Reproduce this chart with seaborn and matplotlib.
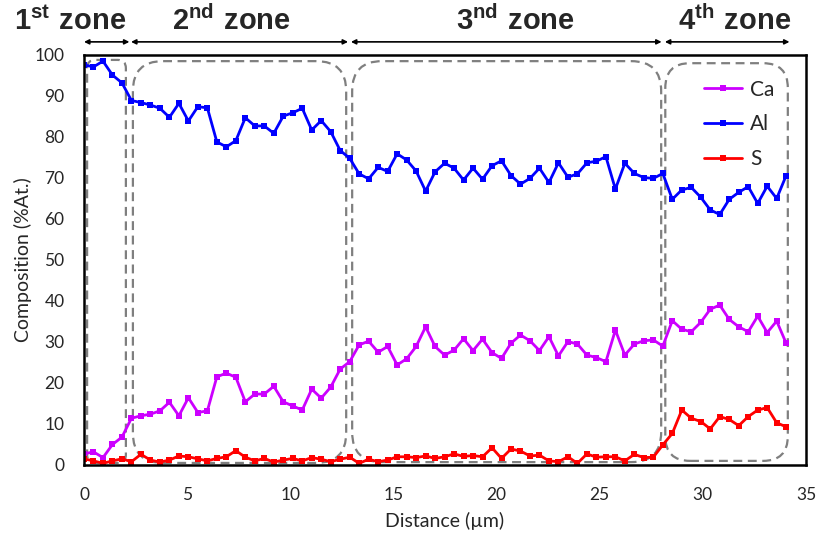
import numpy as np
import pandas as pd
import matplotlib
matplotlib.use('Agg')
import matplotlib.pyplot as plt
from matplotlib import font_manager
from matplotlib.patches import FancyBboxPatch
import seaborn as sns

# EDS line scan, one point every 0.46 um
step = 0.46
ca = [2.7, 3.2, 1.8, 5.0, 6.8, 11.4, 12.0, 12.4, 13.2, 15.3, 12.0, 16.4, 12.8, 13.2, 21.5,
      22.4, 21.4, 15.4, 17.3, 17.3, 19.2,
      15.4, 14.4, 13.4, 18.5, 16.3, 19.0, 23.4, 25.2, 29.3, 30.2, 27.5, 28.9, 24.4, 25.9,
      28.9, 33.7, 28.9, 26.8, 28.0, 30.8,
      27.9, 30.7, 27.4, 26.0, 29.7, 31.7, 30.3, 27.9, 31.3, 26.6, 30.1, 29.5, 26.8, 26.2,
      25.2, 32.9, 26.8, 29.5, 30.3, 30.5,
      29.0, 35.2, 33.1, 32.5, 34.8, 38.0, 39.0, 35.5, 33.7, 32.5, 36.3, 32.3, 35.1, 29.7]
al = [97.6, 97.1, 98.5, 95.1, 93.2, 88.9, 88.4, 87.8, 87.0, 84.8, 88.2, 83.9, 87.4, 87.1, 78.8,
      77.6, 79.1, 84.7, 82.7, 82.7, 80.9,
      85.1, 85.9, 87.0, 81.7, 84.0, 81.3, 76.7, 74.8, 71.0, 69.8, 72.6, 71.6, 75.9, 74.4,
      71.7, 66.8, 71.5, 73.6, 72.4, 69.5,
      72.4, 69.7, 73.0, 74.2, 70.6, 68.5, 69.9, 72.4, 68.9, 73.7, 70.2, 71.0, 73.7, 74.1,
      75.2, 67.3, 73.6, 71.1, 70.1, 69.9,
      71.1, 64.8, 67.1, 67.7, 65.3, 62.2, 61.1, 64.8, 66.5, 67.9, 63.8, 68.0, 65.0, 70.6]
s = [1.5, 1.0, 0.4, 1.0, 1.5, 0.8, 2.6, 1.2, 0.7, 1.2, 2.2, 2.0, 1.5, 1.0, 1.6,
     2.0, 3.5, 1.9, 1.0, 1.6, 0.7,
     1.2, 1.6, 1.0, 1.8, 1.4, 0.8, 1.4, 1.9, 0.4, 1.4, 0.8, 1.2, 2.0, 2.0,
     1.8, 2.2, 1.6, 2.0, 2.7, 2.1,
     2.3, 2.0, 4.2, 1.6, 3.9, 3.4, 2.2, 2.4, 1.0, 0.8, 2.0, 0.4, 2.7, 1.9,
     2.0, 2.0, 1.0, 2.6, 1.8, 1.9,
     4.9, 7.7, 13.4, 11.4, 10.6, 8.8, 11.8, 11.1, 9.6, 11.8, 13.4, 14.0, 10.3, 9.3]
distance = np.round(np.arange(len(al)) * step, 2)

zone_labels = [r'$\mathbf{1^{st}\ zone}$', r'$\mathbf{2^{nd}\ zone}$',
               r'$\mathbf{3^{nd}\ zone}$', r'$\mathbf{4^{th}\ zone}$']
zone_arrows = [(0.0, 2.2), (2.28, 12.8), (12.94, 28.0), (28.16, 34.2)]
zone_text_x = [-0.7, 7.17, 20.9, 31.55]
# dashed rounded boxes: x0, x1, y0, y1, corner radius (um)
boxes = [(0.15, 2.03, 0.5, 98.8, 0.4), (2.37, 12.71, 0.5, 98.5, 1.45),
         (13.0, 27.98, 0.7, 98.5, 1.45), (28.18, 34.12, 1.0, 98.0, 1.2)]

df = pd.DataFrame({'Distance': np.tile(distance, 3),
                   'Composition': ca + al + s,
                   'Element': ['Ca'] * len(ca) + ['Al'] * len(al) + ['S'] * len(s)})
colors = {'Ca': '#CC00FF', 'Al': '#0000FF', 'S': '#FF0000'}

sns.set_style('white')
names = {f.name for f in font_manager.fontManager.ttflist}
narrow = 'Liberation Sans Narrow' if 'Liberation Sans Narrow' in names else 'Liberation Sans'
plt.rcParams['font.family'] = ['Lato', 'DejaVu Sans']
plt.rcParams['mathtext.fontset'] = 'custom'
plt.rcParams['mathtext.rm'] = narrow
plt.rcParams['mathtext.bf'] = narrow + ':bold'

fig = plt.figure(figsize=(8.18, 5.36), dpi=100)
ax = fig.add_axes([0.1027, 0.1325, 0.8826, 0.7649])

for el in ['Ca', 'Al', 'S']:
    sns.lineplot(data=df[df['Element'] == el], x='Distance', y='Composition',
                 color=colors[el], marker='s', markersize=5, markeredgewidth=0,
                 lw=2, label=el, ax=ax, estimator=None)

asp = (1 / 4.1) / (1 / 20.63)
for x0, x1, y0, y1, r in boxes:
    ax.add_patch(FancyBboxPatch((x0, y0), x1 - x0, y1 - y0,
                                boxstyle=f'round,pad=0,rounding_size={r}',
                                mutation_aspect=asp, fill=False, ec='#7F7F7F',
                                lw=1.6, ls=(0, (4, 2.5)), zorder=1))

for (a, b), lab, tx in zip(zone_arrows, zone_labels, zone_text_x):
    ax.annotate('', xy=(a, 103.2), xytext=(b, 103.2), xycoords='data',
                annotation_clip=False,
                arrowprops=dict(arrowstyle='<|-|>', color='black', lw=1.2,
                                mutation_scale=7, shrinkA=0, shrinkB=0))
    ax.text(tx, 106.1, lab, ha='center', va='baseline', fontsize=21, clip_on=False)

ax.set_xlim(0, 35)
ax.set_ylim(0, 100)
ax.set_xticks(range(0, 36, 5))
ax.set_xticks(range(0, 36), minor=True)
ax.set_yticks(range(0, 101, 10))
ax.set_yticks(range(0, 101, 2), minor=True)
ax.tick_params(which='both', direction='out', color='black', width=1.5, labelsize=12.5)
ax.tick_params(which='major', length=5)
ax.tick_params(which='minor', length=4)
ax.tick_params(axis='x', which='major', pad=11)
ax.tick_params(axis='y', which='major', pad=9)
for sp in ax.spines.values():
    sp.set_color('black')
    sp.set_linewidth(1.8)
ax.set_xlabel('Distance (µm)', fontsize=14, labelpad=6)
ax.set_ylabel('Composition (%At.)', fontsize=14, labelpad=2)

ax.legend(loc='upper left', bbox_to_anchor=(0.853, 0.95), frameon=False, fontsize=15,
          handlelength=1.8, handletextpad=0.4, labelspacing=0.7, borderaxespad=0,
          borderpad=0.2)

plt.savefig('out.png', dpi=100)
